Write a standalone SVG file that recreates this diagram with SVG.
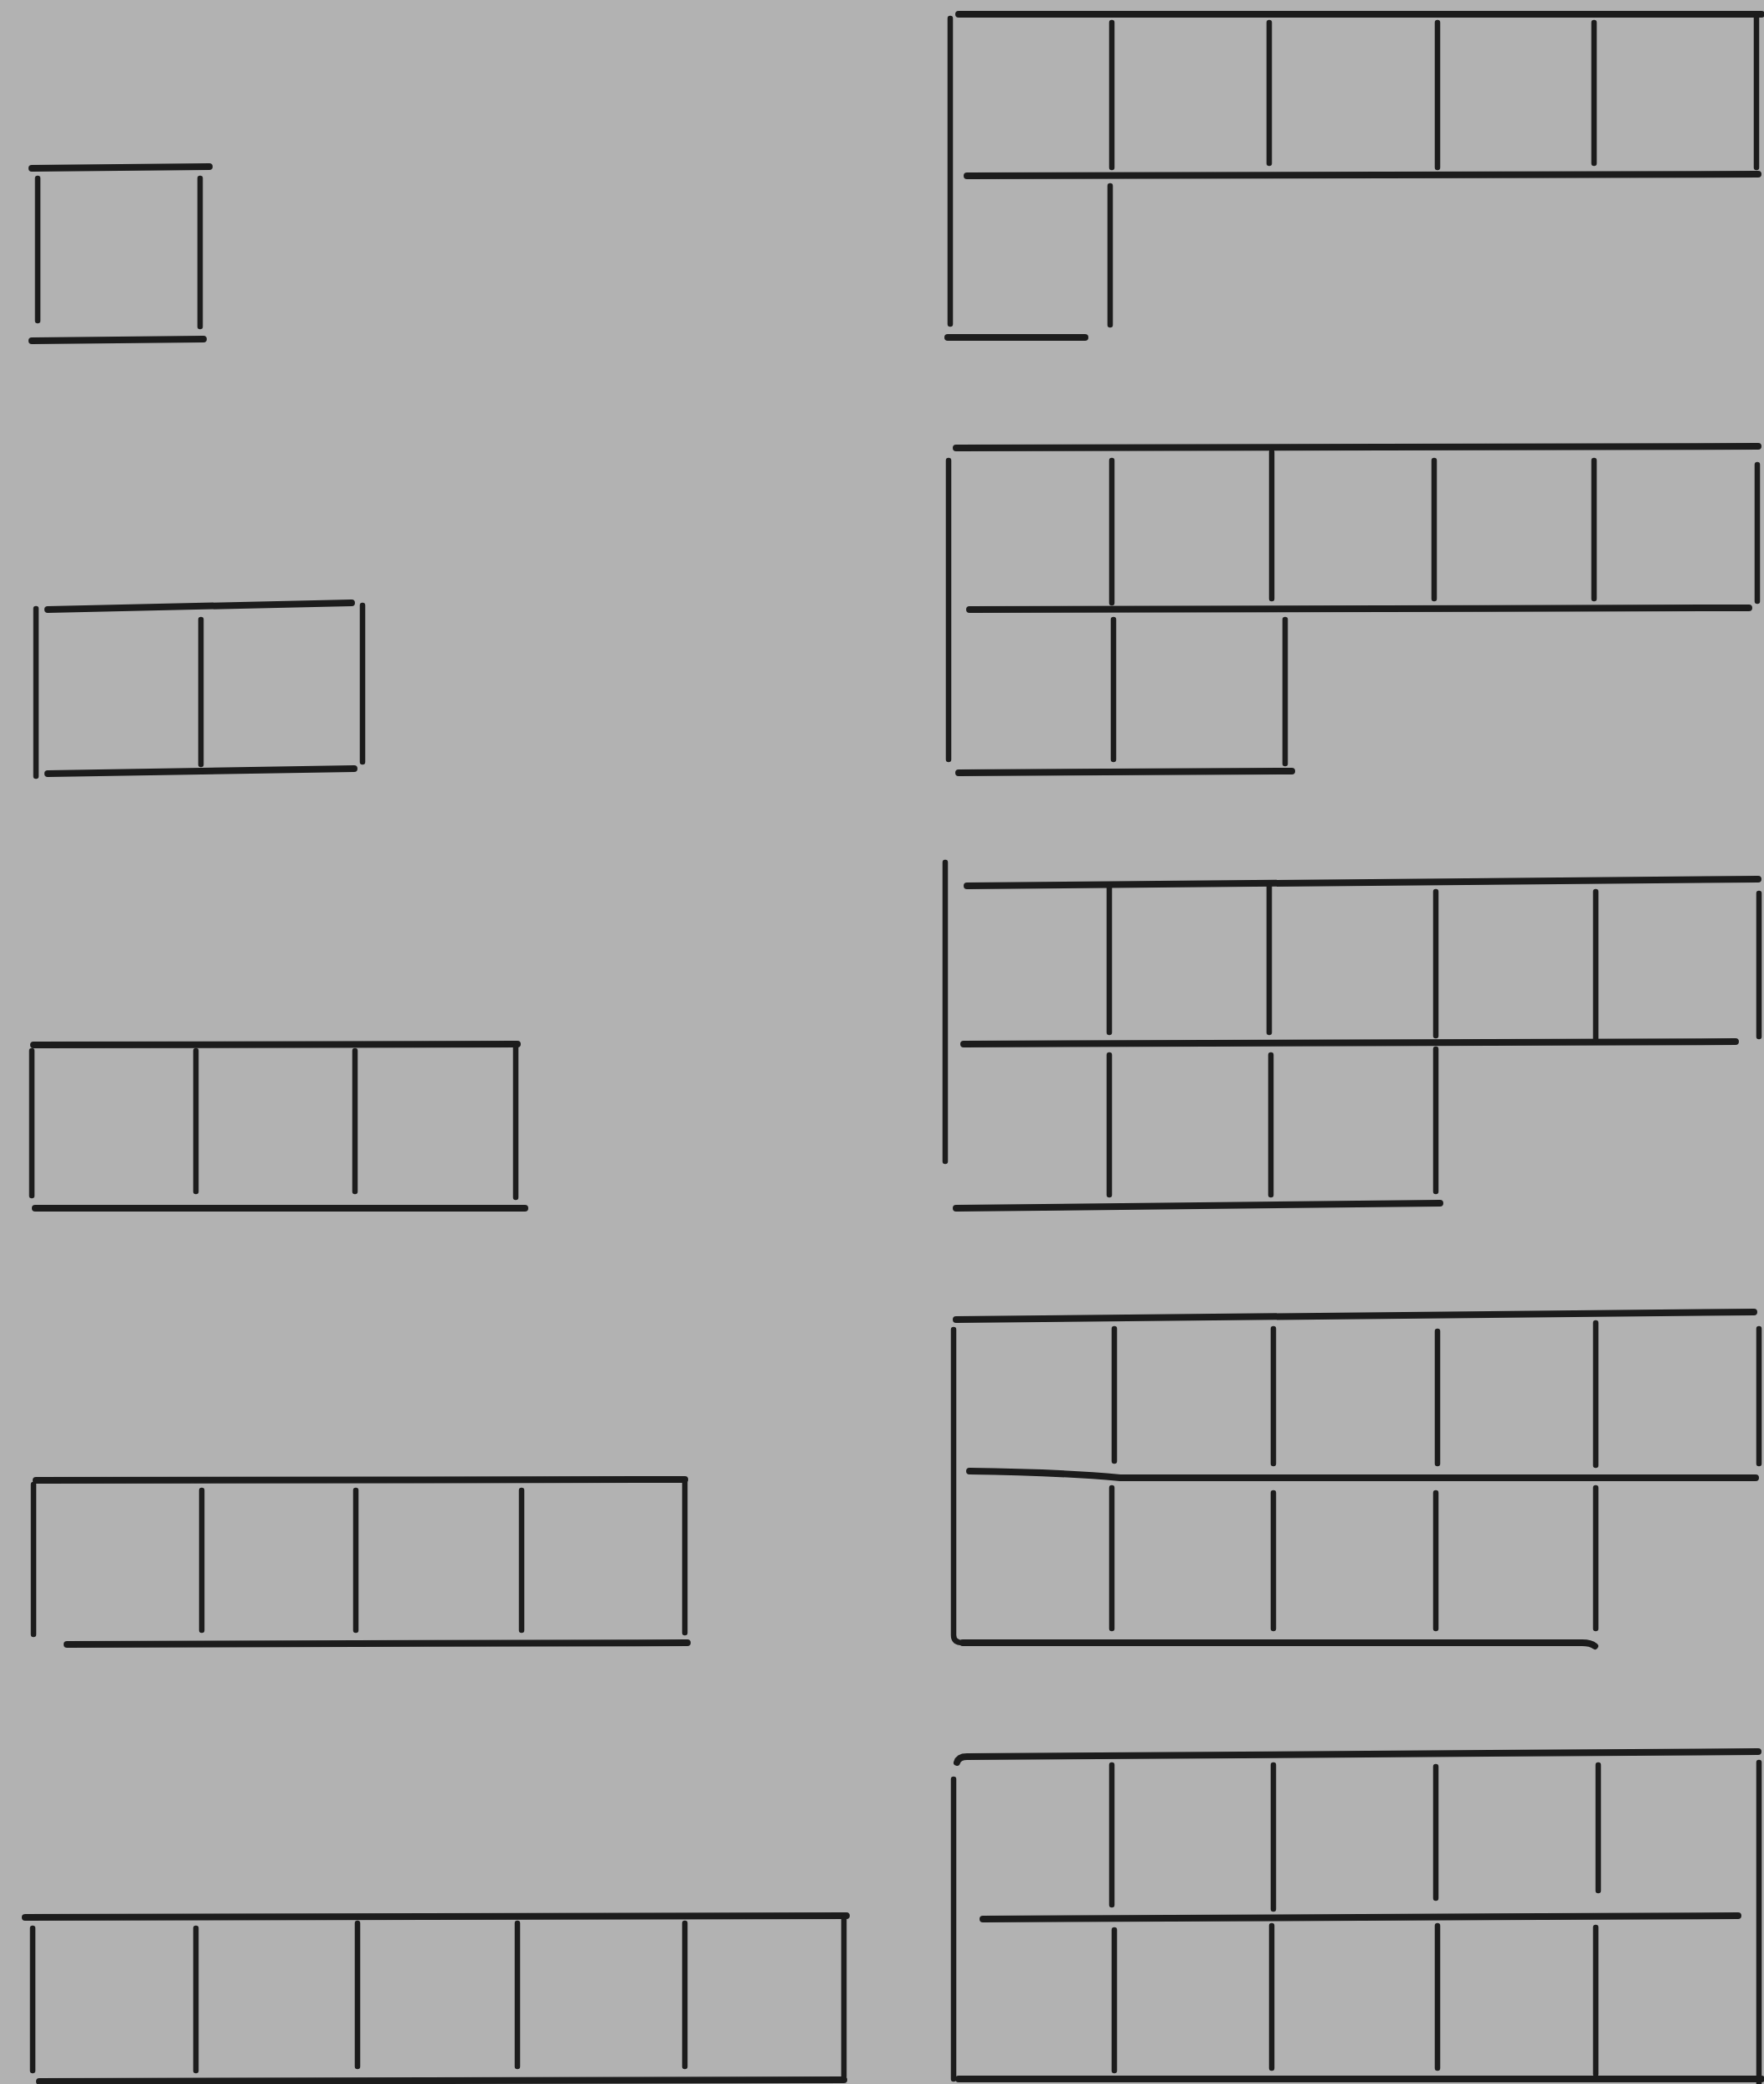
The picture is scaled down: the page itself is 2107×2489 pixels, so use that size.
<svg xmlns="http://www.w3.org/2000/svg" width="2107" height="2489" viewBox="0 0 2107 2489">
<style>
.h{stroke:#1c1c1c;stroke-width:8;stroke-linecap:round;fill:none}
.v{stroke:#1c1c1c;stroke-width:6.5;stroke-linecap:round;fill:none}
</style>
<rect x="0" y="0" width="2107" height="2489" fill="#b2b2b2"/>
<g id="frame-1">
<line class="h" x1="38" y1="201" x2="250" y2="199"/>
<line class="h" x1="38" y1="407" x2="243" y2="405"/>
<line class="v" x1="45" y1="213" x2="45" y2="383"/>
<line class="v" x1="239" y1="213" x2="239" y2="390"/>
</g>
<g id="frame-2">
<line class="h" x1="57" y1="728" x2="420" y2="720"/>
<line class="h" x1="57" y1="924" x2="423" y2="918"/>
<line class="v" x1="43" y1="727" x2="43" y2="927"/>
<line class="v" x1="240" y1="740" x2="240" y2="913"/>
<line class="v" x1="433" y1="723" x2="433" y2="910"/>
</g>
<g id="frame-3">
<line class="h" x1="40" y1="1248" x2="618" y2="1247"/>
<line class="h" x1="42" y1="1443" x2="627" y2="1443"/>
<line class="v" x1="38" y1="1255" x2="38" y2="1428"/>
<line class="v" x1="234" y1="1255" x2="234" y2="1423"/>
<line class="v" x1="424" y1="1255" x2="424" y2="1423"/>
<line class="v" x1="616" y1="1250" x2="616" y2="1430"/>
</g>
<g id="frame-4">
<line class="h" x1="43" y1="1768" x2="818" y2="1767"/>
<line class="h" x1="80" y1="1964" x2="821" y2="1962"/>
<line class="v" x1="40" y1="1773" x2="40" y2="1952"/>
<line class="v" x1="241" y1="1780" x2="241" y2="1947"/>
<line class="v" x1="425" y1="1780" x2="425" y2="1947"/>
<line class="v" x1="623" y1="1780" x2="623" y2="1947"/>
<line class="v" x1="818" y1="1770" x2="818" y2="1950"/>
</g>
<g id="frame-5">
<line class="h" x1="30" y1="2290" x2="1011" y2="2288"/>
<line class="h" x1="47" y1="2486" x2="1008" y2="2484"/>
<line class="v" x1="39" y1="2303" x2="39" y2="2473"/>
<line class="v" x1="234" y1="2303" x2="234" y2="2473"/>
<line class="v" x1="427" y1="2297" x2="427" y2="2468"/>
<line class="v" x1="618" y1="2297" x2="618" y2="2468"/>
<line class="v" x1="818" y1="2297" x2="818" y2="2468"/>
<line class="v" x1="1008" y1="2290" x2="1008" y2="2480"/>
</g>
<g id="frame-6">
<line class="h" x1="1145" y1="17" x2="2104" y2="17"/>
<line class="h" x1="1155" y1="210" x2="2100" y2="208"/>
<line class="h" x1="1132" y1="403" x2="1296" y2="403"/>
<line class="v" x1="1135" y1="22" x2="1135" y2="387"/>
<line class="v" x1="1328" y1="27" x2="1328" y2="200"/>
<line class="v" x1="1516" y1="27" x2="1516" y2="195"/>
<line class="v" x1="1717" y1="27" x2="1717" y2="200"/>
<line class="v" x1="1904" y1="27" x2="1904" y2="195"/>
<line class="v" x1="2098" y1="20" x2="2098" y2="200"/>
<line class="v" x1="1326" y1="222" x2="1326" y2="388"/>
</g>
<g id="frame-7">
<line class="h" x1="1142" y1="535" x2="2100" y2="533"/>
<line class="h" x1="1158" y1="728" x2="2089" y2="726"/>
<line class="h" x1="1145" y1="923" x2="1543" y2="921"/>
<line class="v" x1="1133" y1="550" x2="1133" y2="907"/>
<line class="v" x1="1328" y1="550" x2="1328" y2="720"/>
<line class="v" x1="1519" y1="540" x2="1519" y2="715"/>
<line class="v" x1="1713" y1="550" x2="1713" y2="715"/>
<line class="v" x1="1904" y1="550" x2="1904" y2="715"/>
<line class="v" x1="2099" y1="555" x2="2099" y2="718"/>
<line class="v" x1="1330" y1="740" x2="1330" y2="907"/>
<line class="v" x1="1535" y1="740" x2="1535" y2="912"/>
</g>
<g id="frame-8">
<line class="h" x1="1155" y1="1058" x2="2100" y2="1050"/>
<line class="h" x1="1151" y1="1247" x2="2073" y2="1244"/>
<line class="h" x1="1142" y1="1443" x2="1720" y2="1437"/>
<line class="v" x1="1129" y1="1030" x2="1129" y2="1387"/>
<line class="v" x1="1325" y1="1058" x2="1325" y2="1233"/>
<line class="v" x1="1516" y1="1058" x2="1516" y2="1233"/>
<line class="v" x1="1715" y1="1065" x2="1715" y2="1237"/>
<line class="v" x1="1906" y1="1065" x2="1906" y2="1242"/>
<line class="v" x1="2101" y1="1067" x2="2101" y2="1238"/>
<line class="v" x1="1325" y1="1260" x2="1325" y2="1427"/>
<line class="v" x1="1518" y1="1260" x2="1518" y2="1427"/>
<line class="v" x1="1715" y1="1253" x2="1715" y2="1423"/>
</g>
<g id="frame-9">
<line class="h" x1="1142" y1="1576" x2="2095" y2="1567"/>
<path class="h" d="M1158,1757 Q1260,1758 1338,1765 L2097,1765"/>
<path class="v" d="M1139,1588 L1139,1953 Q1139,1962 1150,1962"/>
<path class="h" d="M1150,1962 L1890,1962 Q1900,1962 1905,1966"/>
<line class="v" x1="1331" y1="1587" x2="1331" y2="1745"/>
<line class="v" x1="1521" y1="1587" x2="1521" y2="1748"/>
<line class="v" x1="1717" y1="1590" x2="1717" y2="1748"/>
<line class="v" x1="1906" y1="1580" x2="1906" y2="1750"/>
<line class="v" x1="2101" y1="1587" x2="2101" y2="1748"/>
<line class="v" x1="1328" y1="1777" x2="1328" y2="1945"/>
<line class="v" x1="1521" y1="1783" x2="1521" y2="1945"/>
<line class="v" x1="1715" y1="1783" x2="1715" y2="1945"/>
<line class="v" x1="1906" y1="1777" x2="1906" y2="1945"/>
</g>
<g id="frame-10">
<path class="h" d="M1143,2105 Q1145,2098 1155,2098 L2100,2092"/>
<line class="h" x1="1174" y1="2292" x2="2076" y2="2288"/>
<line class="h" x1="1145" y1="2483" x2="2104" y2="2483"/>
<line class="v" x1="1139" y1="2125" x2="1139" y2="2483"/>
<line class="v" x1="1328" y1="2108" x2="1328" y2="2275"/>
<line class="v" x1="1521" y1="2108" x2="1521" y2="2280"/>
<line class="v" x1="1715" y1="2110" x2="1715" y2="2267"/>
<line class="v" x1="1909" y1="2108" x2="1909" y2="2258"/>
<line class="v" x1="2101" y1="2105" x2="2101" y2="2489"/>
<line class="v" x1="1331" y1="2305" x2="1331" y2="2473"/>
<line class="v" x1="1519" y1="2300" x2="1519" y2="2470"/>
<line class="v" x1="1717" y1="2300" x2="1717" y2="2470"/>
<line class="v" x1="1906" y1="2302" x2="1906" y2="2477"/>
</g>
</svg>
